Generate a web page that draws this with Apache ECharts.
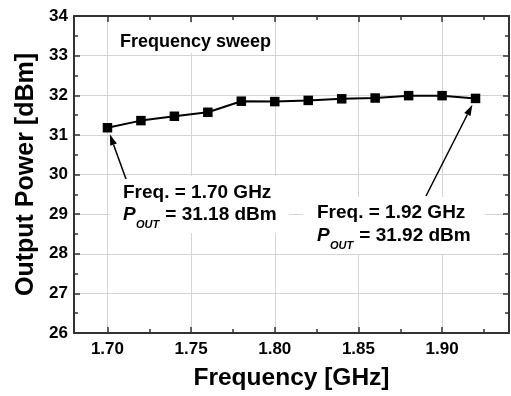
<!DOCTYPE html>
<html>
<head>
<meta charset="utf-8">
<script src="https://cdn.jsdelivr.net/npm/echarts@6/dist/echarts.min.js"></script>
<style>
html,body{margin:0;padding:0;background:#fff;}
#c{width:511px;height:396px;}
</style>
</head>
<body>
<div id="c"></div>
<script>
const freq = [1.70, 1.72, 1.74, 1.76, 1.78, 1.80, 1.82, 1.84, 1.86, 1.88, 1.90, 1.92];
const power = [31.18, 31.36, 31.47, 31.57, 31.85, 31.84, 31.87, 31.91, 31.93, 31.99, 31.99, 31.92];
const xRange = [1.68, 1.94];
const yRange = [26, 34];
const yStep = 1;
const xTitle = 'Frequency [GHz]';
const yTitle = 'Output Power [dBm]';
const sweepLabel = 'Frequency sweep';
const note1 = ['Freq. = 1.70 GHz', ' = 31.18 dBm'];
const note2 = ['Freq. = 1.92 GHz', ' = 31.92 dBm'];

const FONT = 'Liberation Sans, Arial, sans-serif';
const axisCol = '#333';
const chart = echarts.init(document.getElementById('c'), null, {renderer: 'canvas'});

function xAx(pos, showLabel) {
  return {
    type: 'value', position: pos, min: xRange[0], max: xRange[1], splitNumber: 5,
    name: showLabel ? xTitle : '', nameLocation: 'middle', nameGap: 33,
    nameTextStyle: {fontFamily: FONT, fontSize: 24.5, fontWeight: 'bold', color: '#000'},
    axisLine: {show: true, onZero: false, lineStyle: {color: axisCol, width: 2}},
    axisTick: {show: true, inside: true, length: 6, lineStyle: {color: axisCol, width: 1.5}},
    minorTick: {show: true, splitNumber: 2, length: 4, lineStyle: {color: axisCol, width: 1.5}},
    axisLabel: {show: showLabel, margin: 8, showMinLabel: false, showMaxLabel: false,
      fontFamily: FONT, fontSize: 17, fontWeight: 'bold', color: '#000',
      formatter: v => v.toFixed(2)},
    splitLine: {show: showLabel, lineStyle: {color: '#d4d4d4', width: 1}}
  };
}
function yAx(pos, showLabel) {
  return {
    type: 'value', position: pos, min: yRange[0], max: yRange[1], interval: yStep,
    name: showLabel ? yTitle : '', nameLocation: 'middle', nameGap: 34,
    nameTextStyle: {fontFamily: FONT, fontSize: 25, fontWeight: 'bold', color: '#000'},
    axisLine: {show: true, onZero: false, lineStyle: {color: axisCol, width: 2}},
    axisTick: {show: true, inside: true, length: 6, lineStyle: {color: axisCol, width: 1.5}},
    minorTick: {show: true, splitNumber: 2, length: 4, lineStyle: {color: axisCol, width: 1.5}},
    axisLabel: {show: showLabel, margin: 6, fontFamily: FONT, fontSize: 17, fontWeight: 'bold', color: '#000'},
    splitLine: {show: showLabel, lineStyle: {color: '#d4d4d4', width: 1}}
  };
}

chart.setOption({
  animation: false,
  backgroundColor: '#fff',
  grid: {left: 74, right: 2, top: 16, bottom: 60, containLabel: false},
  xAxis: [xAx('bottom', true), xAx('top', false)],
  yAxis: [yAx('left', true), yAx('right', false)],
  series: [{
    type: 'line',
    data: freq.map((f, i) => [f, power[i]]),
    symbol: 'rect', symbolSize: 9.5,
    itemStyle: {color: '#000'},
    lineStyle: {color: '#000', width: 2},
    z: 5
  }]
});

// annotations
const txt = (x, y, text, size, italic, z) => ({
  type: 'text', x: x, y: y, z: z || 10,
  style: {text: text, fontFamily: FONT, fontSize: size, fontWeight: 'bold',
    fontStyle: italic ? 'italic' : 'normal', fill: '#000', align: 'left', verticalAlign: 'middle'}
});
function note(lines, x, y1, y2) {
  return [
    txt(x, y1, lines[0], 19),
    txt(x, y2, 'P', 19, true),
    txt(x + 13, y2 + 10, 'OUT', 11, true),
    txt(x + 37, y2, lines[1], 19)
  ];
}
function arrow(tail, dataIdx) {
  const p = chart.convertToPixel({xAxisIndex: 0, yAxisIndex: 0}, [freq[dataIdx], power[dataIdx]]);
  const dx = tail[0] - p[0], dy = tail[1] - p[1];
  const L = Math.sqrt(dx * dx + dy * dy);
  const ux = dx / L, uy = dy / L;
  const tip = [p[0] + ux * 7, p[1] + uy * 7];
  const hl = 11, hw = 3.5;
  const base = [tip[0] + ux * hl, tip[1] + uy * hl];
  const nx = -uy, ny = ux;
  return [
    {type: 'line', z: 11, shape: {x1: tail[0], y1: tail[1], x2: base[0], y2: base[1]},
      style: {stroke: '#000', lineWidth: 1.5}},
    {type: 'polygon', z: 11, shape: {points: [tip, [base[0] + nx * hw, base[1] + ny * hw], [base[0] - nx * hw, base[1] - ny * hw]]},
      style: {fill: '#000'}}
  ];
}
const rect = (x, y, w, h) => ({type: 'rect', z: 1, shape: {x: x, y: y, width: w, height: h}, style: {fill: '#fff'}});

chart.setOption({
  graphic: [
    rect(115, 23, 150, 30),
    rect(110, 176, 179, 57),
    rect(303, 197, 182, 57),
    txt(120, 42, sweepLabel, 18),
    ...note(note1, 123, 192.5, 214.5),
    ...note(note2, 317, 212.5, 235.5),
    ...arrow([126, 179], 0),
    ...arrow([426, 196], freq.length - 1)
  ]
});
</script>
</body>
</html>
